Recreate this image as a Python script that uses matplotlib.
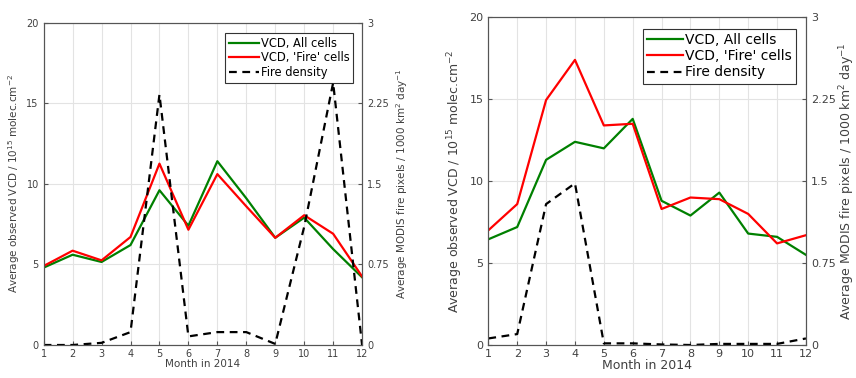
import numpy as np
import matplotlib
matplotlib.use("Agg")
import matplotlib.pyplot as plt

months = np.arange(1, 13)

# left panel
vcd_all_a = [4.8, 5.6, 5.15, 6.2, 9.6, 7.4, 11.4, 9.1, 6.65, 7.9, 5.95, 4.2]
vcd_fire_a = [4.9, 5.85, 5.25, 6.7, 11.25, 7.15, 10.6, 8.6, 6.65, 8.05, 6.9, 4.25]
fire_dens_a = [0.0, 0.0, 0.02, 0.12, 2.33, 0.08, 0.12, 0.12, 0.01, 1.1, 2.44, 0.0]

# right panel
vcd_all_b = [6.45, 7.2, 11.3, 12.4, 12.0, 13.8, 8.8, 7.9, 9.3, 6.8, 6.6, 5.5]
vcd_fire_b = [7.0, 8.6, 14.95, 17.4, 13.4, 13.5, 8.3, 9.0, 8.9, 8.0, 6.2, 6.7]
fire_dens_b = [0.06, 0.1, 1.29, 1.48, 0.015, 0.015, 0.005, 0.0, 0.01, 0.01, 0.01, 0.06]

left_ticks = [0, 5, 10, 15, 20]
right_ticks = [0, 0.75, 1.5, 2.25, 3]
right_ticklabels = ["0", "0.75", "1.5", "2.25", "3"]

plt.rcParams["font.family"] = "DejaVu Sans"
plt.rcParams["mathtext.default"] = "regular"

TXT = "#404040"
SPINE = "#555555"


def draw_panel(fig, rect, vall, vfire, dens, fs_tick, fs_lab, fs_leg, leg_anchor, rpad):
    ax = fig.add_axes(rect)
    ax2 = ax.twinx()
    l1, = ax.plot(months, vall, color="#008000", lw=1.6, label="VCD, All cells")
    l2, = ax.plot(months, vfire, color="#ff0000", lw=1.6, label="VCD, 'Fire' cells")
    l3, = ax2.plot(months, dens, color="black", lw=1.6, ls=(0, (3.5, 2.5)),
                   label="Fire density")
    ax.set_xlim(1, 12)
    ax.set_ylim(0, 20)
    ax2.set_ylim(0, 3)
    ax.set_xticks(months)
    ax.set_yticks(left_ticks)
    ax2.set_yticks(right_ticks)
    ax2.set_yticklabels(right_ticklabels)
    ax.grid(True, color="#e3e3e3", lw=0.8)
    ax.set_axisbelow(True)
    for a in (ax, ax2):
        a.tick_params(direction="in", length=3, labelsize=fs_tick, colors=TXT,
                      pad=2, color=SPINE)
        for s in a.spines.values():
            s.set_color(SPINE)
            s.set_linewidth(0.8)
    ax.tick_params(axis="x", pad=3)
    ax.tick_params(axis="y", pad=3.5)
    ax2.tick_params(axis="y", pad=3.5)
    ax.set_xlabel("Month in 2014", fontsize=fs_lab, color=TXT, labelpad=0)
    ax.set_ylabel("Average observed VCD / 10$^{15}$ molec.cm$^{-2}$",
                  fontsize=fs_lab, color=TXT, labelpad=3)
    ax2.set_ylabel("Average MODIS fire pixels / 1000 km$^{2}$ day$^{-1}$",
                   fontsize=fs_lab, color=TXT, labelpad=rpad)
    leg = ax.legend(handles=[l1, l2, l3], loc="upper right", bbox_to_anchor=leg_anchor,
                    fontsize=fs_leg, frameon=True, fancybox=False, framealpha=1,
                    edgecolor="#333333", handlelength=2.6, handletextpad=0.15,
                    borderpad=0.3, labelspacing=0.15, borderaxespad=0)
    leg.get_frame().set_linewidth(0.8)
    return ax


fig = plt.figure(figsize=(8.56, 3.78), dpi=100)
draw_panel(fig, [0.051, 0.0873, 0.372, 0.853], vcd_all_a, vcd_fire_a, fire_dens_a,
           7, 7.5, 8.3, (0.971, 0.967), 4)
draw_panel(fig, [0.5705, 0.0873, 0.371, 0.867], vcd_all_b, vcd_fire_b, fire_dens_b,
           8, 9, 10, (0.97, 0.964), 1)

fig.savefig("out.png", dpi=100)
